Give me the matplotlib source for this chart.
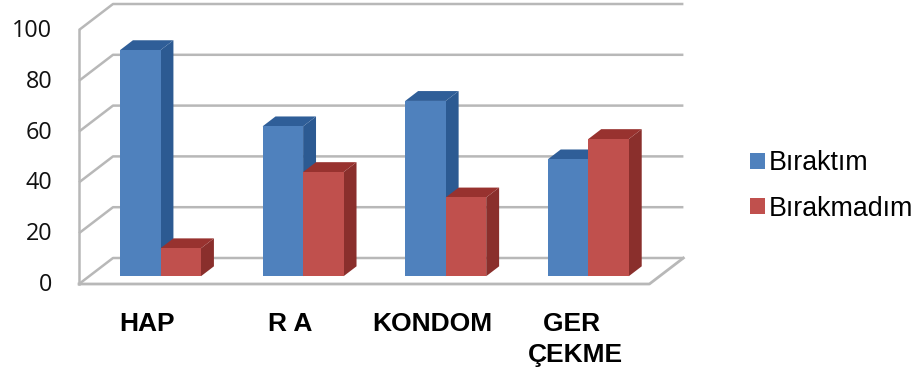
import matplotlib
matplotlib.use('Agg')
import matplotlib.pyplot as plt
from matplotlib.patches import Patch, Polygon

categories = ['HAP', 'R A', 'KONDOM', 'GER \nÇEKME']
biraktim = [89, 59, 69, 46]
birakmadim = [11, 41, 31, 54]
y_ticks = [0, 20, 40, 60, 80, 100]

BLUE = ('#4F81BD', '#2C5A92', '#2F5E98')
RED = ('#C0504D', '#8A2F2C', '#98322F')
GRID = '#B8B8B8'

W, H = 918, 373
PX_X = 142.6   # pixels per category
PX_Y = 2.54    # pixels per value unit
X0, Y0 = 150.3, 284

# oblique projection: depth 1 moves this far right and up
DX = 34 / PX_X
DY = 26 / PX_Y
BAR_W = 40.5 / PX_X
D0, D1 = 0.3, 0.68


def proj(x, y, d):
    return x + d * DX, y + d * DY


def draw_bar(ax, x, value, colors, z):
    front, side, top = colors
    x1 = x + BAR_W
    face = [proj(x, 0, D0), proj(x1, 0, D0), proj(x1, value, D0), proj(x, value, D0)]
    right = [proj(x1, 0, D0), proj(x1, 0, D1), proj(x1, value, D1), proj(x1, value, D0)]
    roof = [proj(x, value, D0), proj(x1, value, D0), proj(x1, value, D1), proj(x, value, D1)]
    ax.add_patch(Polygon(right, color=side, lw=0, zorder=z))
    ax.add_patch(Polygon(roof, color=top, lw=0, zorder=z))
    ax.add_patch(Polygon(face, color=front, lw=0, zorder=z + 0.1))


fig = plt.figure(figsize=(W / 100, H / 100), dpi=100)
ax = fig.add_axes([0, 0, 1, 1])
ax.set_xlim(-X0 / PX_X, (W - X0) / PX_X)
ax.set_ylim(-(H - Y0) / PX_Y, Y0 / PX_Y)
ax.axis('off')

left, right_end = -0.5, 3.5

# walls and floor
for t in y_ticks:
    xa, ya = proj(left, t, 0)
    xb, yb = proj(left, t, 1)
    xc, yc = proj(right_end, t, 1)
    ax.plot([xa, xb, xc], [ya, yb, yc], color=GRID, lw=1.8, zorder=1, solid_capstyle='butt')
    ax.text(left - 26.5 / PX_X, t - 0.4, str(t), ha='right', va='center', fontsize=16.8,
            family='Open Sans', color='#111111')

ax.plot([left, left], [0, y_ticks[-1]], color=GRID, lw=1.8, zorder=1)
xb, yb = proj(right_end, 0, 1)
ax.plot([left, right_end, xb], [0, 0, yb], color=GRID, lw=2, zorder=1)

label_top = -(312 - Y0) / PX_Y
for i in range(len(categories)):
    draw_bar(ax, i - BAR_W, biraktim[i], BLUE, 2 + i)
    draw_bar(ax, i, birakmadim[i], RED, 2.5 + i)
    ax.text(i - 0.02, label_top, categories[i], ha='center', va='top', fontsize=19,
            family='Liberation Sans', fontweight='bold', color='black', linespacing=1.38)

handles = [Patch(color=BLUE[0], lw=0), Patch(color=RED[0], lw=0)]
fig.legend(handles, ['Bıraktım', 'Bırakmadım'], loc='center left', bbox_to_anchor=(745 / W, 1 - 186 / H),
           frameon=False, prop={'family': 'Liberation Sans', 'size': 19.3}, handlelength=0.55,
           handleheight=0.55, handletextpad=0.15, labelspacing=0.72, borderpad=0.2, borderaxespad=0)

fig.savefig('out.png', dpi=100)
